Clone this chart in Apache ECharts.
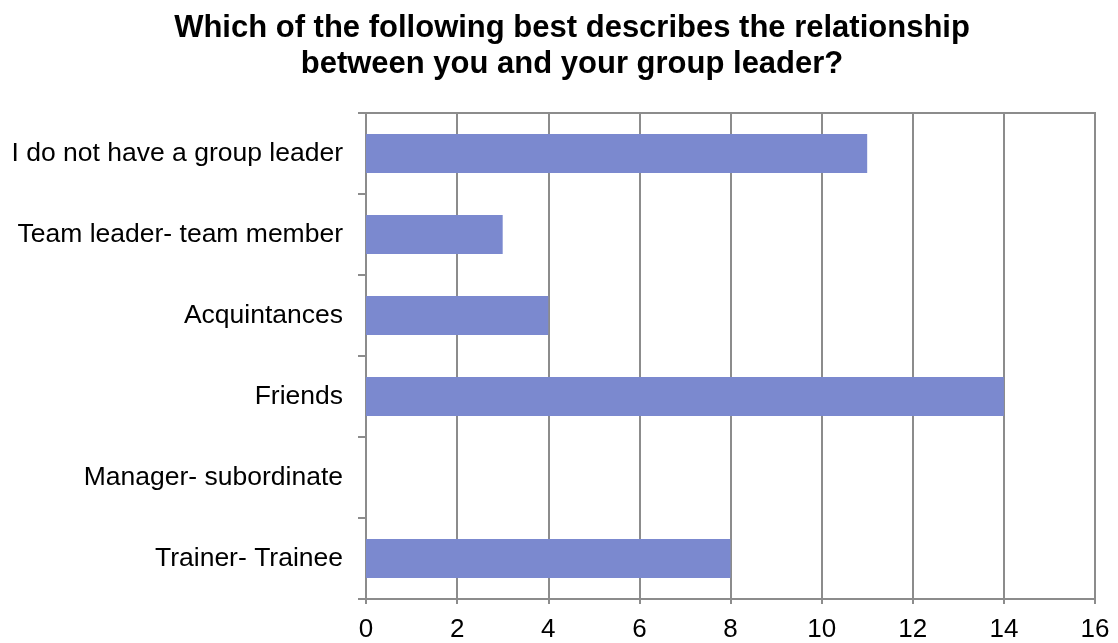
<!DOCTYPE html>
<html>
<head>
<meta charset="utf-8">
<script src="https://cdn.jsdelivr.net/npm/echarts@6/dist/echarts.min.js"></script>
<style>
html,body{margin:0;padding:0;background:#fff;}
#chart{width:1118px;height:643px;}
</style>
</head>
<body>
<div id="chart"></div>
<script>
// Survey answers, listed bottom-to-top as the category axis draws them
const categories = [
  'Trainer- Trainee',
  'Manager- subordinate',
  'Friends',
  'Acquintances',
  'Team leader- team member',
  'I do not have a group leader'
];
const counts = [8, 0, 14, 4, 3, 11];
const titleText = 'Which of the following best describes the relationship\nbetween you and your group leader?';

const chart = echarts.init(document.getElementById('chart'));
const font = '"Liberation Sans", Arial, sans-serif';
chart.setOption({
  animation: false,
  title: {
    text: titleText,
    left: 567,
    top: 5,
    textAlign: 'center',
    textStyle: {
      fontFamily: font,
      fontSize: 31,
      fontWeight: 'bold',
      color: '#000',
      lineHeight: 36
    }
  },
  grid: { left: 366, right: 23, top: 113, bottom: 42, show: true, borderColor: '#8c8c8c', borderWidth: 2 },
  xAxis: {
    type: 'value',
    min: 0,
    max: 16,
    interval: 2,
    axisLine: { show: true, lineStyle: { color: '#8c8c8c', width: 2 } },
    axisTick: { show: true, length: 5, lineStyle: { color: '#8c8c8c', width: 2 } },
    splitLine: { show: true, lineStyle: { color: '#8c8c8c', width: 2 } },
    axisLabel: { fontFamily: font, fontSize: 26, color: '#000', margin: 18 }
  },
  yAxis: {
    type: 'category',
    data: categories,
    axisLine: { show: true, lineStyle: { color: '#8c8c8c', width: 2 } },
    axisTick: { show: true, length: 8, lineStyle: { color: '#8c8c8c', width: 2 } },
    axisLabel: { fontFamily: font, fontSize: 26.5, color: '#000', margin: 23 }
  },
  series: [{
    type: 'bar',
    data: counts,
    barCategoryGap: '52%',
    itemStyle: { color: '#7b89cf' }
  }]
});
</script>
</body>
</html>
